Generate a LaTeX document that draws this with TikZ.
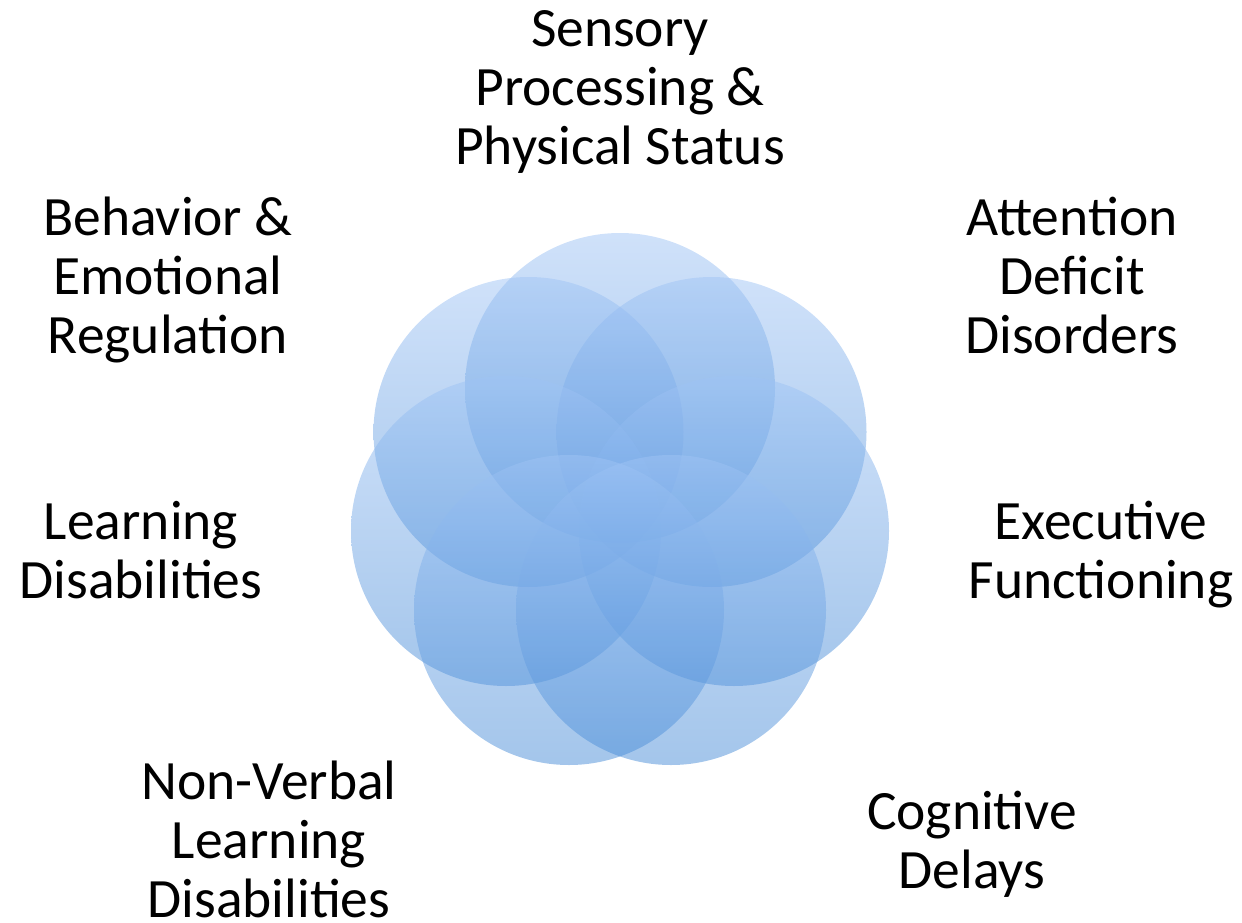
\documentclass[tikz,border=0pt]{standalone}
\usepackage{fontspec}
\setmainfont{Carlito}
\definecolor{petaltop}{RGB}{160,196,245}
\definecolor{petalbot}{RGB}{72,140,215}

\begin{document}
\begin{tikzpicture}[x=1pt,y=-1pt,
		petal/.style={top color=petaltop,bottom color=petalbot,draw=none,fill opacity=0.5},
		topic/.style={anchor=north,inner sep=0pt,align=center,font=\fontsize{55.5}{59}\selectfont}]
			\useasboundingbox (0,0) rectangle (1242,923);
			% seven overlapping circles, ring centre (620,505)
			\shade[petal] (620,388)   circle[radius=155pt];
			\shade[petal] (711.5,432) circle[radius=155pt];
			\shade[petal] (528.5,432) circle[radius=155pt];
			\shade[petal] (734,531)   circle[radius=155pt];
			\shade[petal] (506,531)   circle[radius=155pt];
			\shade[petal] (671,610)   circle[radius=155pt];
			\shade[petal] (569,610)   circle[radius=155pt];
			% the topics round the circles
			\node[topic] (sensory)   at (620,10)  {Sensory\\Processing \&\\Physical Status};
			\node[topic] (behavior)  at (168,197) {Behavior \&\\Emotional\\Regulation};
			\node[topic] (attention) at (1072,197) {Attention\\Deficit\\Disorders};
			\node[topic] (learning)  at (141,501) {Learning\\Disabilities};
			\node[topic] (executive) at (1101,501) {Executive\\Functioning};
			\node[topic] (nonverbal) at (269,761) {Non-Verbal\\Learning\\Disabilities};
			\node[topic] (cognitive) at (972,791) {Cognitive\\Delays};
		\end{tikzpicture}
\end{document}
